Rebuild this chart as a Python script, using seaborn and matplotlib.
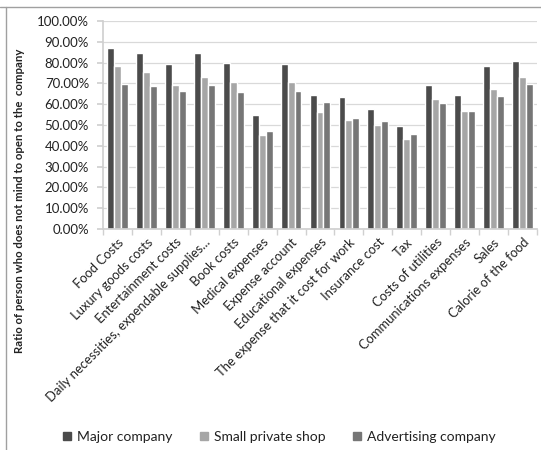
import matplotlib
matplotlib.use("Agg")
from matplotlib import pyplot as plt
from matplotlib.ticker import PercentFormatter
from matplotlib.lines import Line2D
import numpy as np
import pandas as pd
import seaborn as sns

categories = ["Food Costs", "Luxury goods costs", "Entertainment costs",
              "Daily necessities, expendable supplies...", "Book costs",
              "Medical expenses", "Expense account", "Educational expenses",
              "The expense that it cost for work", "Insurance cost", "Tax",
              "Costs of utilities", "Communications expenses", "Sales",
              "Calorie of the food"]
major = [86.9, 84.8, 79.4, 84.8, 80.0, 54.9, 79.4, 64.6, 63.4, 57.6, 49.6, 69.3, 64.6, 78.4, 80.9]
small = [78.5, 75.5, 69.3, 73.3, 70.6, 45.4, 70.9, 56.3, 52.6, 50.1, 43.2, 62.6, 56.9, 67.5, 73.3]
advert = [69.9, 68.6, 66.4, 69.3, 65.9, 47.2, 66.4, 61.0, 53.4, 51.8, 45.6, 60.7, 56.9, 64.1, 69.8]
series = ["Major company", "Small private shop", "Advertising company"]
colors = ["#4b4b4b", "#a6a6a6", "#767676"]

rows = []
for s, vals in zip(series, [major, small, advert]):
    for c, v in zip(categories, vals):
        rows.append({"cat": c, "series": s, "value": v})
df = pd.DataFrame(rows)

sns.set_theme(style="white")
plt.rcParams['font.family'] = ['Lato', 'DejaVu Sans']

fig = plt.figure(figsize=(5.41, 4.5), dpi=100)
ax = fig.add_axes([103/541, 1-229/450, 434/541, 208/450])

sns.barplot(data=df, x="cat", y="value", hue="series", palette=colors,
            width=0.72, gap=0, ax=ax, legend=False, saturation=1)

ax.set_ylim(0, 100)
ax.set_yticks(np.arange(0, 101, 10))
ax.yaxis.set_major_formatter(PercentFormatter(decimals=2))
ax.grid(axis="y", color="#d9d9d9", linewidth=0.9)
ax.set_axisbelow(True)
ax.set_xlim(-0.5, len(categories) - 0.5)

for side in ["top", "right"]:
    ax.spines[side].set_visible(False)
ax.spines["left"].set_color("#d0d0d0")
ax.spines["bottom"].set_color("#d0d0d0")

ax.set_xticks(np.arange(len(categories)))
ax.set_xticklabels(categories, rotation=45, ha="right", rotation_mode="anchor",
                   fontsize=9.4, color="#222222")
# tick marks at category boundaries
ax.set_xticks(np.arange(-0.5, len(categories), 1), minor=True)
ax.tick_params(axis="x", which="minor", length=4, color="#d0d0d0", bottom=True)
ax.tick_params(axis="x", which="major", length=0, pad=5)
ax.tick_params(axis="y", labelsize=9.5, labelcolor="#222222", length=4,
               color="#d0d0d0", left=True, pad=6)

ax.set_xlabel("")
ax.set_ylabel("Ratio of person who does not mind to open to the  company",
              fontsize=8.2, fontweight="bold", color="#222222")
ax.yaxis.set_label_coords((25 - 103) / 434, (229 - 201) / 208)

handles = [Line2D([], [], marker="s", linestyle="", markersize=6,
                  color=c) for c in colors]
fig.legend(handles, series, loc="center", bbox_to_anchor=(278/541, 1-437/450),
           ncol=3, frameon=False, fontsize=10, handletextpad=0.2,
           columnspacing=1.8, handlelength=1.0, labelcolor="#222222")

# chart frame
fig.add_artist(Line2D([0, 1], [1-7/450, 1-7/450], color="#a0a0a0", linewidth=1))
fig.add_artist(Line2D([6/541, 6/541], [0, 1-7/450], color="#a0a0a0", linewidth=1))

fig.savefig("out.png", dpi=100)
